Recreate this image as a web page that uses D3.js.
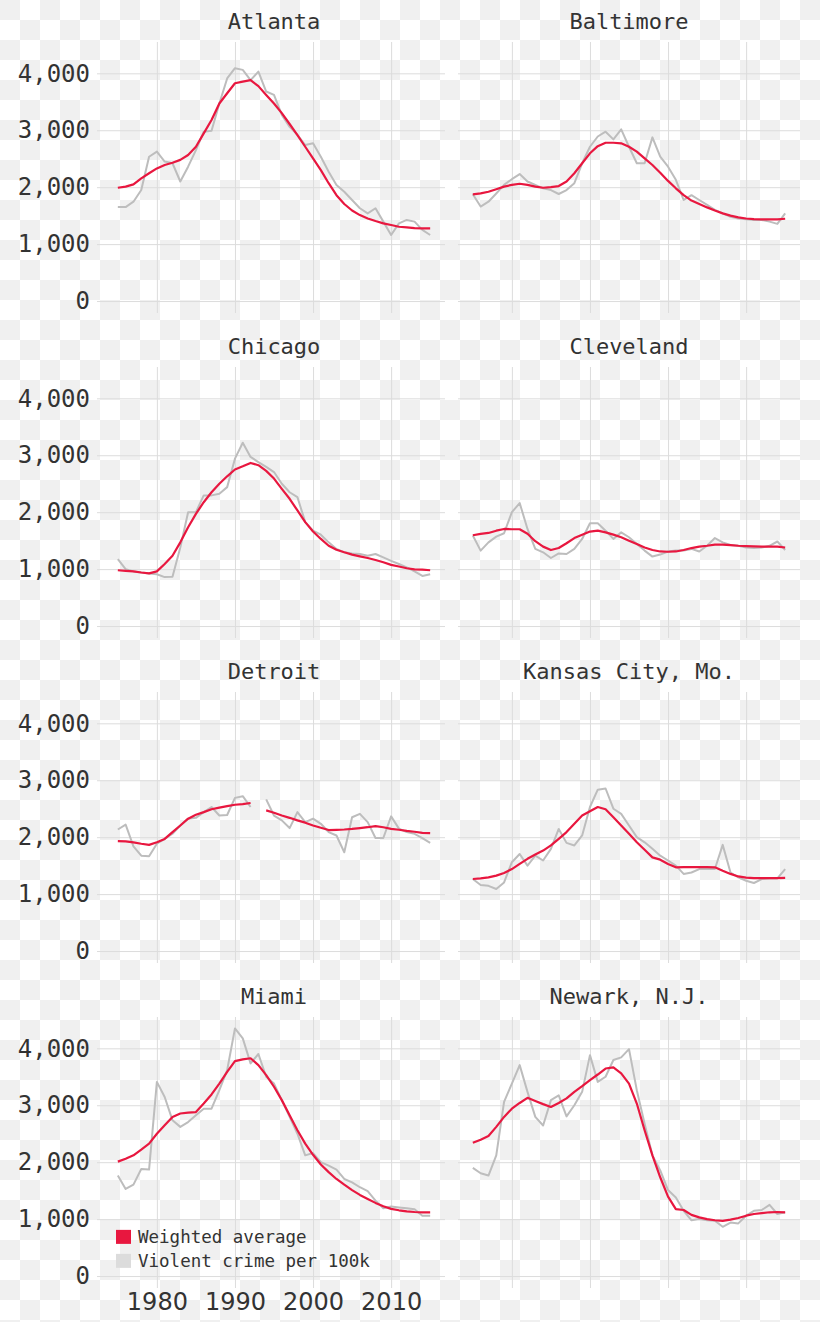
<!doctype html>
<html lang="en">
<head>
<meta charset="utf-8">
<title>Violent crime per 100k</title>
<script src="https://cdnjs.cloudflare.com/ajax/libs/d3/7.8.5/d3.min.js"></script>
<style>
  html, body { margin: 0; padding: 0; background: #fff; }
  svg { display: block; }
  text { font-family: "DejaVu Sans Mono", "Liberation Mono", monospace; fill: #333; }
</style>
</head>
<body>
<svg id="chart" width="820" height="1322"></svg>
<script>
  //
  // Data
  //

  var years = [1975, 1976, 1977, 1978, 1979, 1980, 1981, 1982, 1983, 1984,
    1985, 1986, 1987, 1988, 1989, 1990, 1991, 1992, 1993, 1994,
    1995, 1996, 1997, 1998, 1999, 2000, 2001, 2002, 2003, 2004,
    2005, 2006, 2007, 2008, 2009, 2010, 2011, 2012, 2013, 2014, 2015]

  var yTicks = [0, 1000, 2000, 3000, 4000]
  var xTicks = [1980, 1990, 2000, 2010]
  var cityNames = ['Atlanta', 'Baltimore', 'Chicago', 'Cleveland', 'Detroit', 'Kansas City, Mo.', 'Miami', 'Newark, N.J.']
  var legendLabels = ['Weighted average', 'Violent crime per 100k']

  var atlantaCrime = [1650, 1650, 1745, 1950, 2535, 2625, 2450, 2420, 2100, 2360,
    2650, 2975, 2990, 3470, 3910, 4090, 4060, 3880, 4030, 3680,
    3620, 3270, 3060, 2920, 2740, 2770, 2535, 2270, 2040, 1920,
    1775, 1630, 1540, 1630, 1395, 1160, 1365, 1425, 1395, 1250, 1160]
  var atlantaAvg = [1990, 2010, 2050, 2155, 2245, 2330, 2390, 2430, 2480, 2565,
    2710, 2945, 3180, 3470, 3650, 3825, 3855, 3880, 3775, 3620,
    3470, 3300, 3110, 2915, 2710, 2505, 2300, 2070, 1860, 1705,
    1590, 1510, 1450, 1405, 1365, 1335, 1305, 1295, 1280, 1275, 1275]

  var baltimoreCrime = [1875, 1660, 1745, 1890, 2040, 2140, 2230, 2100, 2040, 1980,
    1950, 1880, 1950, 2070, 2420, 2710, 2890, 2975, 2840, 3015,
    2710, 2420, 2420, 2875, 2535, 2360, 2130, 1775, 1860, 1775,
    1690, 1600, 1540, 1480, 1450, 1435, 1425, 1425, 1395, 1355, 1540]
  var baltimoreAvg = [1875, 1890, 1920, 1965, 2010, 2040, 2060, 2040, 2010, 1990,
    2000, 2020, 2100, 2245, 2420, 2595, 2720, 2780, 2780, 2770,
    2710, 2625, 2505, 2390, 2255, 2110, 1980, 1860, 1765, 1705,
    1645, 1590, 1540, 1500, 1470, 1450, 1440, 1435, 1435, 1435, 1445]

  var chicagoCrime = [1175, 1000, 960, 940, 925, 910, 860, 865, 1380, 2000,
    2000, 2295, 2295, 2325, 2440, 2940, 3220, 2970, 2880, 2795,
    2705, 2500, 2350, 2265, 1825, 1675, 1605, 1470, 1355, 1295,
    1275, 1265, 1235, 1265, 1205, 1145, 1090, 1030, 960, 880, 910]
  var chicagoAvg = [980, 970, 960, 940, 925, 960, 1090, 1235, 1470, 1735,
    1970, 2175, 2350, 2500, 2630, 2750, 2805, 2865, 2825, 2725,
    2590, 2410, 2235, 2030, 1825, 1660, 1530, 1410, 1340, 1295,
    1255, 1225, 1195, 1160, 1120, 1075, 1045, 1015, 995, 990, 980]

  var clevelandCrime = [1590, 1325, 1470, 1570, 1630, 2000, 2160, 1705, 1355, 1295,
    1195, 1275, 1265, 1355, 1530, 1805, 1805, 1675, 1530, 1645,
    1560, 1440, 1325, 1220, 1255, 1310, 1325, 1325, 1355, 1310,
    1410, 1545, 1470, 1425, 1410, 1380, 1370, 1380, 1410, 1485, 1335]
  var clevelandAvg = [1595, 1620, 1635, 1675, 1705, 1700, 1700, 1620, 1490, 1395,
    1335, 1370, 1455, 1545, 1605, 1660, 1675, 1645, 1605, 1560,
    1500, 1440, 1380, 1335, 1310, 1305, 1310, 1335, 1370, 1395,
    1410, 1430, 1430, 1420, 1410, 1405, 1400, 1395, 1395, 1395, 1380]

  var detroitCrime = [2135, 2220, 1840, 1675, 1665, 1885, 1970, 2060, 2205, 2325,
    2340, 2440, 2530, 2380, 2390, 2690, 2720, 2530, null, 2665,
    2380, 2295, 2160, 2440, 2265, 2325, 2235, 2090, 2030, 1735,
    2350, 2410, 2265, 1985, 1985, 2365, 2150, 2090, 2060, 1985, 1900]
  var detroitAvg = [1930, 1925, 1910, 1885, 1865, 1910, 1970, 2090, 2205, 2325,
    2395, 2440, 2490, 2520, 2545, 2570, 2580, 2600, null, 2470,
    2430, 2380, 2340, 2295, 2255, 2205, 2165, 2125, 2130, 2135,
    2145, 2160, 2175, 2195, 2175, 2145, 2130, 2110, 2095, 2075, 2070]

  var kansasCityCrime = [1265, 1160, 1145, 1090, 1205, 1560, 1705, 1500, 1675, 1590,
    1795, 2145, 1900, 1855, 2030, 2530, 2835, 2855, 2500, 2410,
    2205, 2000, 1910, 1795, 1675, 1590, 1500, 1355, 1380, 1440,
    1440, 1440, 1865, 1380, 1295, 1235, 1195, 1265, 1275, 1275, 1440]
  var kansasCityAvg = [1265, 1275, 1295, 1325, 1370, 1440, 1530, 1620, 1695, 1765,
    1855, 1970, 2090, 2235, 2380, 2455, 2530, 2490, 2350, 2205,
    2060, 1910, 1780, 1645, 1605, 1530, 1470, 1475, 1475, 1475,
    1475, 1470, 1410, 1355, 1310, 1290, 1280, 1280, 1280, 1280, 1285]

  var miamiCrime = [1765, 1530, 1605, 1880, 1870, 3410, 3145, 2735, 2620, 2705,
    2825, 2940, 2940, 3265, 3615, 4350, 4175, 3735, 3900, 3500,
    3380, 3090, 2795, 2500, 2120, 2160, 2000, 1940, 1870, 1705,
    1645, 1560, 1490, 1325, 1190, 1220, 1205, 1190, 1175, 1060, 1060]
  var miamiAvg = [2010, 2060, 2120, 2220, 2325, 2500, 2650, 2795, 2855, 2870,
    2880, 3030, 3190, 3380, 3585, 3775, 3805, 3825, 3705, 3530,
    3325, 3090, 2825, 2560, 2325, 2130, 1960, 1825, 1705, 1605,
    1510, 1425, 1355, 1285, 1225, 1180, 1155, 1135, 1125, 1120, 1120]

  var newarkCrime = [1900, 1805, 1765, 2120, 3060, 3380, 3705, 3235, 2795, 2645,
    3090, 3175, 2805, 3000, 3235, 3880, 3410, 3500, 3795, 3840,
    3985, 3265, 2675, 2120, 1855, 1510, 1380, 1145, 980, 1000,
    980, 970, 865, 940, 925, 1060, 1145, 1160, 1250, 1090, 1120]
  var newarkAvg = [2340, 2395, 2460, 2620, 2795, 2940, 3040, 3130, 3075, 3020,
    2970, 3040, 3120, 3235, 3335, 3440, 3540, 3645, 3665, 3560,
    3380, 3030, 2560, 2120, 1735, 1395, 1175, 1160, 1075, 1030,
    1000, 980, 970, 990, 1020, 1060, 1090, 1105, 1120, 1125, 1120]

  var crimeSeries = [atlantaCrime, baltimoreCrime, chicagoCrime, clevelandCrime,
    detroitCrime, kansasCityCrime, miamiCrime, newarkCrime]
  var avgSeries = [atlantaAvg, baltimoreAvg, chicagoAvg, clevelandAvg,
    detroitAvg, kansasCityAvg, miamiAvg, newarkAvg]

  //
  // Configuration
  //

  var colorAvg = '#e8173f'
  var colorCrime = '#bdbdbd'
  var colorGrid = '#dcdcdc'
  var colorChecker = '#f0f0f0'
  var colLeft = [103, 458]
  var plotWidth = 342
  var plotHeight = 271
  var rowTop = 42
  var rowStep = 325

  var svg = d3.select('#chart')

  // light checkerboard background, as in the reference image
  var defs = svg.append('defs')
  var pat = defs.append('pattern')
    .attr('id', 'checker').attr('patternUnits', 'userSpaceOnUse')
    .attr('width', 40).attr('height', 40)
  pat.append('rect').attr('width', 40).attr('height', 40).attr('fill', '#fff')
  pat.append('rect').attr('width', 20).attr('height', 20).attr('fill', colorChecker)
  pat.append('rect').attr('x', 20).attr('y', 20).attr('width', 20).attr('height', 20).attr('fill', colorChecker)
  svg.append('rect').attr('width', 820).attr('height', 1322).attr('fill', 'url(#checker)')

  var x = d3.scaleLinear().domain([1973.1, 2016.9]).range([0, plotWidth])
  var y = d3.scaleLinear().domain([-210, 4550]).range([plotHeight, 0])

  //
  // Panels
  //

  cityNames.forEach(function (name, i) {
    var col = i % 2
    var row = Math.floor(i / 2)
    var g = svg.append('g')
      .attr('transform', 'translate(' + colLeft[col] + ',' + (rowTop + row * rowStep) + ')')

    // horizontal grid (left column also carries the tick labels)
    var yAxis = d3.axisLeft(y).tickValues(yTicks)
      .tickSize(col === 0 ? -(plotWidth + 6) : -plotWidth)
      .tickPadding(col === 0 ? 13 : 0)
      .tickFormat(col === 0 ? d3.format(',') : '')
    var ya = g.append('g').call(yAxis)
    ya.select('.domain').remove()
    ya.selectAll('.tick line')
      .attr('x1', col === 0 ? -6 : 0)
      .attr('x2', plotWidth)
      .attr('stroke', colorGrid)
    ya.selectAll('.tick text')
      .attr('font-size', 24).attr('fill', '#333')
      .style('font-family', '"DejaVu Sans Mono", monospace')

    // vertical grid
    var xAxis = d3.axisBottom(x).tickValues(xTicks)
      .tickSize(-plotHeight).tickPadding(5)
      .tickFormat(i === 6 ? d3.format('d') : '')
    var xa = g.append('g').attr('transform', 'translate(0,' + plotHeight + ')').call(xAxis)
    xa.select('.domain').remove()
    xa.selectAll('.tick line').attr('stroke', colorGrid)
    xa.selectAll('.tick text')
      .attr('font-size', 24).attr('fill', '#333')
      .style('font-family', '"DejaVu Sans", sans-serif')

    g.append('text')
      .attr('x', plotWidth / 2).attr('y', -13)
      .attr('text-anchor', 'middle')
      .attr('font-size', 22)
      .text(name)

    var line = d3.line()
      .defined(function (d) { return d != null })
      .x(function (d, j) { return x(years[j]) })
      .y(function (d) { return y(d) })

    g.append('path').datum(crimeSeries[i])
      .attr('fill', 'none').attr('stroke', colorCrime).attr('stroke-width', 2)
      .attr('stroke-linejoin', 'round')
      .attr('d', line)

    g.append('path').datum(avgSeries[i])
      .attr('fill', 'none').attr('stroke', colorAvg).attr('stroke-width', 2.2)
      .attr('stroke-linejoin', 'round')
      .attr('d', line)

    // legend sits inside the Miami panel
    if (i === 6) {
      var legend = g.append('g').attr('transform', 'translate(13,' + (y(600) - 5) + ')')
      legendLabels.forEach(function (label, k) {
        legend.append('rect')
          .attr('x', 0).attr('y', k * 24 - 7)
          .attr('width', 15).attr('height', 14)
          .attr('fill', k === 0 ? colorAvg : '#dcdcdc')
        legend.append('text')
          .attr('x', 22).attr('y', k * 24)
          .attr('dy', '0.35em')
          .attr('font-size', 17.5)
          .text(label)
      })
    }
  })
</script>
</body>
</html>
